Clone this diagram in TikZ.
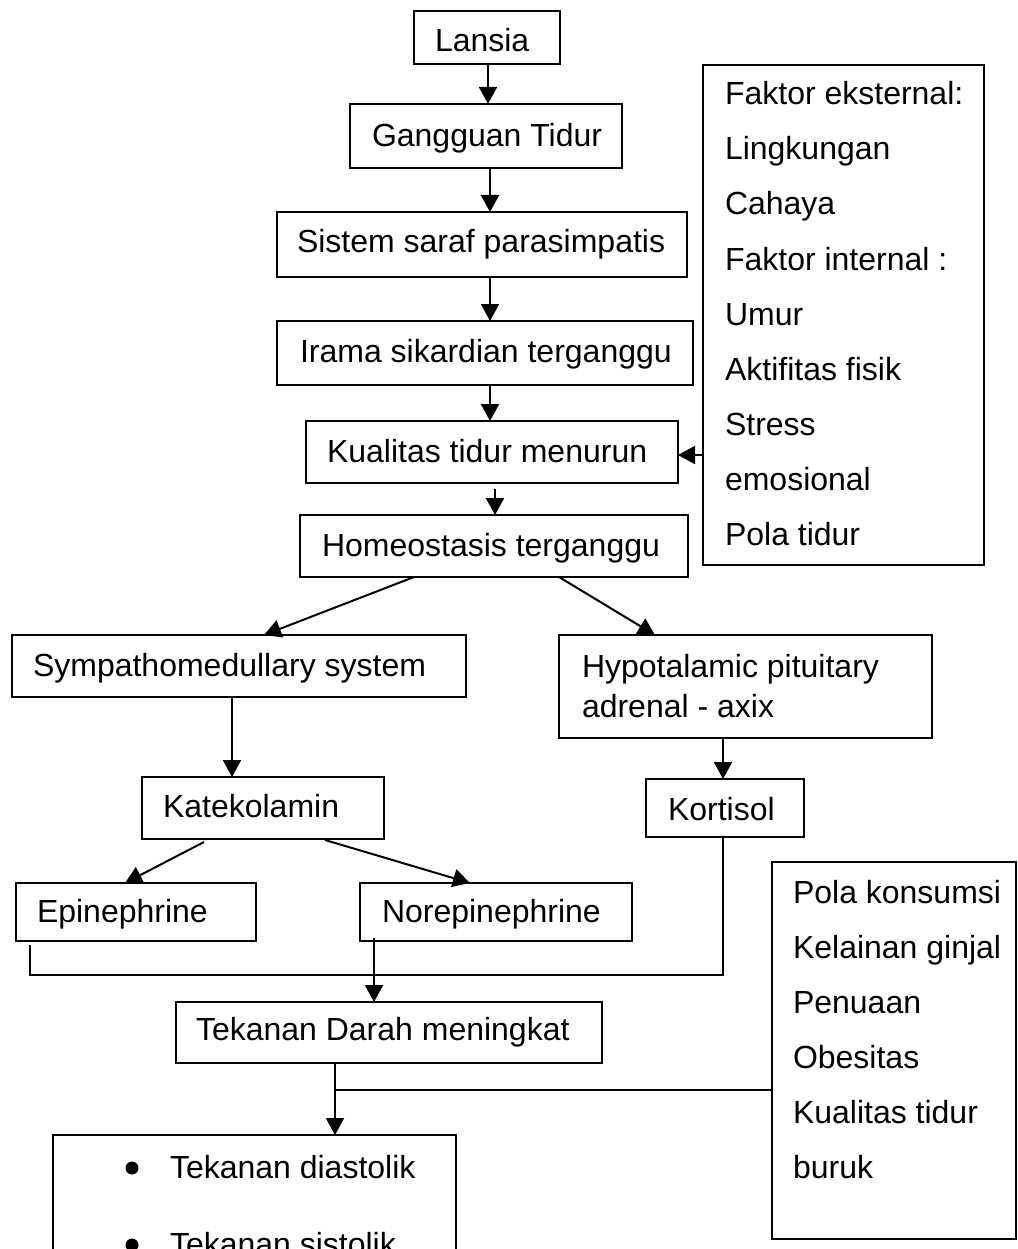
\documentclass[tikz,border=0pt]{standalone}
\usepackage{fontspec}
\setmainfont{Liberation Sans}
\usetikzlibrary{arrows.meta}
\newcommand\bx[5]{\node[box, minimum width={#4-#2}, minimum height={#5-#3}] (#1) at ({(#2+#4)/2},{(#3+#5)/2}) {};}
\begin{document}
\begin{tikzpicture}[x=1pt,y=-1pt,
  box/.style={draw, line width=2pt, rectangle, inner sep=0pt, outer sep=0pt},
  txt/.style={anchor=base west, inner sep=0pt, outer sep=0pt, font=\fontsize{32}{38}\selectfont},
  conn/.style={line width=2pt},
  arr/.style={line width=2pt, -{Triangle[width=18pt,length=17pt]}}]
\useasboundingbox (0,0) rectangle (1017,1249);
% boxes
\bx{lansia}{414}{11}{560}{64}
\bx{gangguan}{350}{104}{622}{168}
\bx{sistem}{277}{212}{687}{277}
\bx{irama}{277}{321}{693}{385}
\bx{kualitas}{306}{421}{678}{483}
\bx{homeo}{300}{515}{688}{577}
\bx{faktor}{703}{65}{984}{565}
\bx{symp}{12}{635}{466}{697}
\bx{hypo}{559}{635}{932}{738}
\bx{kate}{142}{777}{384}{839}
\bx{kort}{646}{779}{804}{837}
\bx{epi}{16}{883}{256}{941}
\bx{norepi}{360}{883}{632}{941}
\bx{tekanan}{176}{1002}{602}{1063}
\bx{pola}{772}{862}{1016}{1239}
\bx{hasil}{53}{1135}{456}{1330}
% texts
\node[txt] (tlansia) at (435,52) {Lansia};
\node[txt] (tgangguan) at (372,147) {Gangguan Tidur};
\node[txt] (tsistem) at (297,253) {Sistem saraf parasimpatis};
\node[txt] (tirama) at (300,362) {Irama sikardian terganggu};
\node[txt] (tkualitas) at (327,462) {Kualitas tidur menurun};
\node[txt] (thomeo) at (322,556) {Homeostasis terganggu};
\node[txt] (tf1) at (725,105) {Faktor eksternal:};
\node[txt] (tf2) at (725,160) {Lingkungan};
\node[txt] (tf3) at (725,215) {Cahaya};
\node[txt] (tf4) at (725,270) {Faktor internal :};
\node[txt] (tf5) at (725,325) {Umur};
\node[txt] (tf6) at (725,380) {Aktifitas fisik};
\node[txt] (tf7) at (725,435) {Stress};
\node[txt] (tf8) at (725,490) {emosional};
\node[txt] (tf9) at (725,545) {Pola tidur};
\node[txt] (tsymp) at (33,676) {Sympathomedullary system};
\node[txt] (thypo1) at (582,677) {Hypotalamic pituitary};
\node[txt] (thypo2) at (582,717) {adrenal - axix};
\node[txt] (tkate) at (163,817) {Katekolamin};
\node[txt] (tkort) at (668,820) {Kortisol};
\node[txt] (tepi) at (37,922) {Epinephrine};
\node[txt] (tnorepi) at (382,922) {Norepinephrine};
\node[txt] (ttekanan) at (196,1040) {Tekanan Darah meningkat};
\node[txt] (tp1) at (793,903) {Pola konsumsi};
\node[txt] (tp2) at (793,958) {Kelainan ginjal};
\node[txt] (tp3) at (793,1013) {Penuaan};
\node[txt] (tp4) at (793,1068) {Obesitas};
\node[txt] (tp5) at (793,1123) {Kualitas tidur};
\node[txt] (tp6) at (793,1178) {buruk};
\fill (132,1168) circle (6.5pt);
\node[txt] (th1) at (170,1178) {Tekanan diastolik};
\fill (132,1245) circle (6.5pt);
\node[txt] (th2) at (170,1255) {Tekanan sistolik};
% connectors
\draw[arr] (lansia.south -| 488,0) -- (gangguan.north -| 488,0);
\draw[arr] (gangguan.south -| 490,0) -- (sistem.north -| 490,0);
\draw[arr] (sistem.south -| 490,0) -- (irama.north -| 490,0);
\draw[arr] (irama.south -| 490,0) -- (kualitas.north -| 490,0);
\draw[arr] ([yshift=-6pt]kualitas.south -| 495,0) -- (homeo.north -| 495,0);
\draw[arr] (faktor.west |- 0,455) -- (kualitas.east |- 0,455);
\draw[arr] (homeo.south -| 414,0) -- (symp.north -| 264,0);
\draw[arr] (homeo.south -| 559,0) -- (hypo.north -| 655,0);
\draw[arr] (symp.south -| 232,0) -- (kate.north -| 232,0);
\draw[arr] (hypo.south -| 723,0) -- (kort.north -| 723,0);
\draw[arr] ([yshift=-3pt]kate.south -| 204,0) -- (epi.north -| 125,0);
\draw[arr] ([yshift=-1pt]kate.south -| 325,0) -- (norepi.north -| 470,0);
\coordinate (c1) at (30,975);
\coordinate (c2) at (723,975);
\draw[conn] ([yshift=-4pt]epi.south -| c1) -- (c1) -- (c2) -- (kort.south -| c2);
\draw[arr] ([yshift=3pt]norepi.south -| 374,0) -- (tekanan.north -| 374,0);
\coordinate (j) at (335,1090);
\draw[arr] (tekanan.south -| j) -- (hasil.north -| j);
\draw[conn] (pola.west |- j) -- (j);
\end{tikzpicture}
\end{document}
